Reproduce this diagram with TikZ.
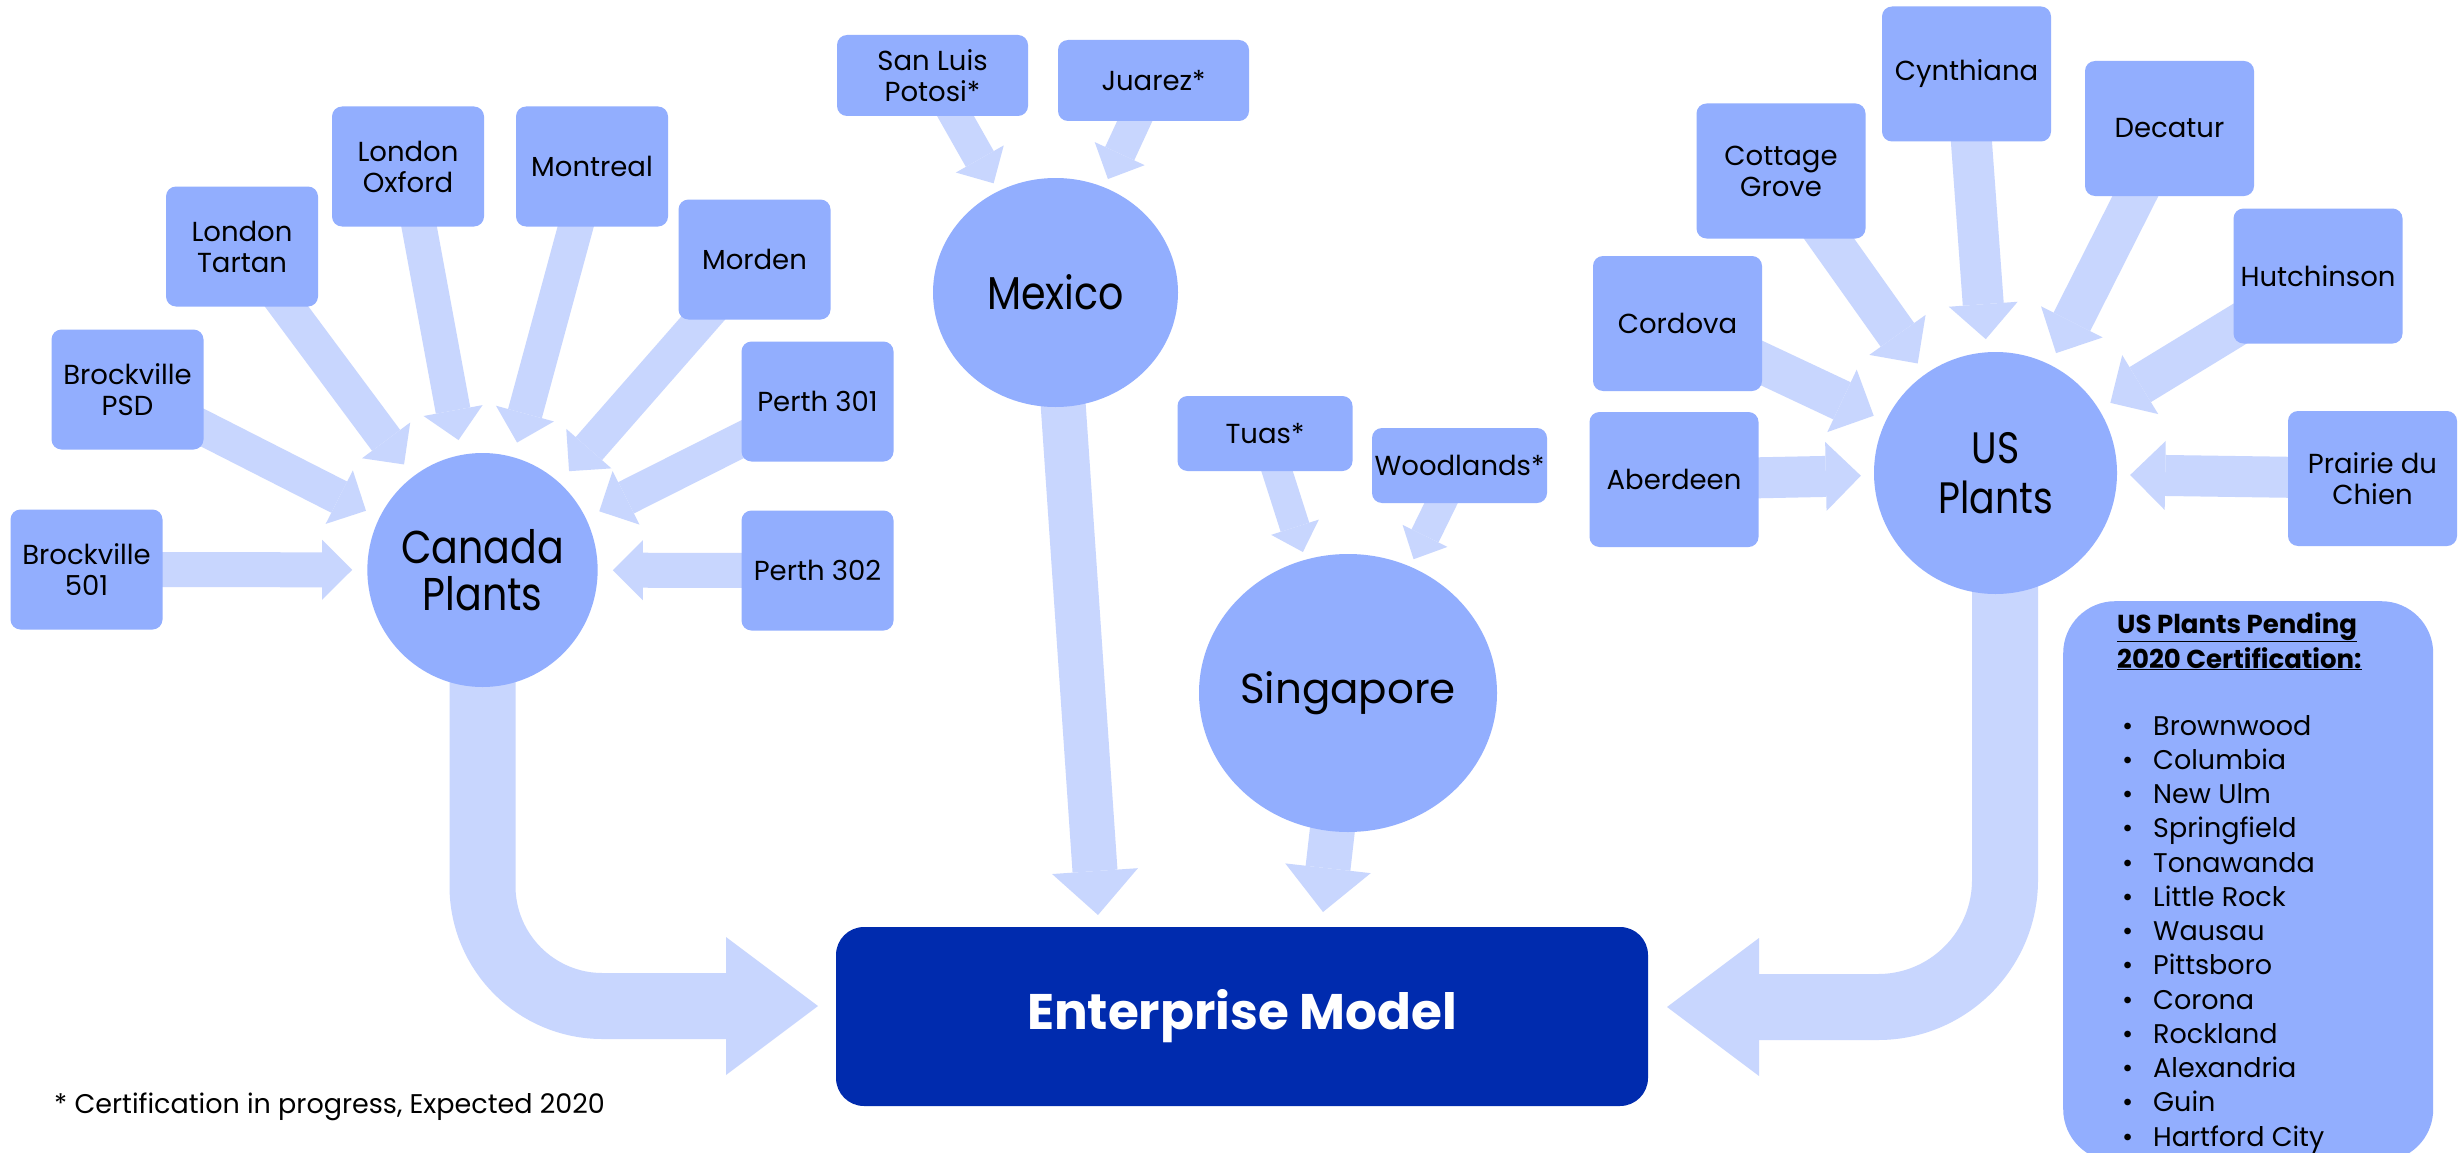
\documentclass[tikz,border=0pt]{standalone}
\usepackage{fontspec}
\setmainfont{Poppins}
\newfontfamily\narrowfont[FakeStretch=0.86]{Poppins}
\usetikzlibrary{shapes.geometric,arrows.meta}
\definecolor{siteblue}{RGB}{146,174,254}
\definecolor{flowblue}{RGB}{200,214,254}
\definecolor{navy}{RGB}{0,43,174}
\pgfdeclarelayer{paper}
\pgfdeclarelayer{background}
\pgfsetlayers{paper,background,main}

\begin{document}
\begin{tikzpicture}[x=1pt,y=-1pt,
  site/.style={rectangle,rounded corners=10pt,fill=siteblue,align=center,inner sep=0pt,
    font=\fontsize{27.5}{31}\selectfont},
  cansite/.style={site,minimum width=152pt,minimum height=120pt},
  ussite/.style={site,minimum width=169pt,minimum height=135pt},
  mexsite/.style={site,minimum width=191pt,minimum height=81pt},
  sgsite/.style={site,minimum width=175pt,minimum height=75pt},
  hub/.style={ellipse,fill=siteblue,inner sep=0pt,align=center},
  canflow/.style={draw=flowblue,line width=35pt,shorten >=15pt,
    -{Triangle[length=30pt,width=60pt,line width=0pt]}},
  usflow/.style={draw=flowblue,line width=41pt,shorten >=13pt,
    -{Triangle[length=35pt,width=69pt,line width=0pt]}},
  mexflow/.style={draw=flowblue,line width=32pt,shorten >=9pt,
    -{Triangle[length=28pt,width=55pt,line width=0pt]}},
  sgflow/.style={draw=flowblue,line width=30pt,shorten >=8pt,
    -{Triangle[length=26pt,width=50pt,line width=0pt]}},
  downflow/.style={draw=flowblue,line width=45pt,
    -{Triangle[length=44pt,width=86pt,line width=0pt]}},
  bigflow/.style={draw=flowblue,line width=66pt,
    -{Triangle[length=92pt,width=138pt,line width=0pt]}},
  listitem/.style={anchor=base west,inner sep=0pt,font=\fontsize{27}{30}\selectfont}
]
\useasboundingbox (0,0) rectangle (2463,1153);
\begin{pgfonlayer}{paper}
  \fill[white] (0,0) rectangle (2463,1153);
\end{pgfonlayer}

% ---------- hubs ----------
\node[hub,minimum width=229pt,minimum height=234pt,
  font=\narrowfont\fontsize{46}{47}\selectfont] (canada) at (482.5,570) {Canada\\Plants};
\node[hub,minimum width=245pt,minimum height=229pt,
  font=\narrowfont\fontsize{46}{50}\selectfont] (mexico) at (1055.5,292.5) {Mexico};
\node[hub,minimum width=298pt,minimum height=278pt,
  font=\fontsize{42}{50}\selectfont] (singapore) at (1348,693) {\makebox[0pt]{Singapore}};
\node[hub,minimum width=243pt,minimum height=242pt,
  font=\narrowfont\fontsize{44}{50}\selectfont] (us) at (1995.5,473) {US\\Plants};

% ---------- Canadian sites ----------
\node[cansite] (brock501) at (86.5,569.5) {Brockville\\501};
\node[cansite] (brockpsd) at (127.5,389.5) {Brockville\\PSD};
\node[cansite] (ltartan)  at (242,246.5)   {London\\Tartan};
\node[cansite] (loxford)  at (408,166.5)   {London\\Oxford};
\node[cansite] (montreal) at (592,166.5)   {Montreal};
\node[cansite] (morden)   at (754.5,259.5) {Morden};
\node[cansite] (perthA)   at (817.5,401.5) {Perth 301};
\node[cansite] (perthB)   at (817.5,570.5) {Perth 302};

% ---------- Mexican sites ----------
\node[mexsite] (slp)    at (932.5,75.5)  {San Luis\\Potosi*};
\node[mexsite] (juarez) at (1153.5,80.5) {Juarez*};

% ---------- Singapore sites ----------
\node[sgsite] (tuas)      at (1265,433.5)   {Tuas*};
\node[sgsite] (woodlands) at (1459.5,465.5) {Woodlands*};

% ---------- US sites ----------
\node[ussite] (cynthiana)  at (1966.5,74)    {Cynthiana};
\node[ussite] (cottage)    at (1781,171)     {Cottage\\Grove};
\node[ussite] (decatur)    at (2169.5,128.5) {Decatur};
\node[ussite] (cordova)    at (1677.5,323.5) {Cordova};
\node[ussite] (hutchinson) at (2318,276)     {Hutchinson};
\node[ussite] (aberdeen)   at (1674,479.5)   {Aberdeen};
\node[ussite] (prairie)    at (2372.5,478.5) {Prairie du\\Chien};

% ---------- enterprise model ----------
\node[rectangle,rounded corners=28pt,fill=navy,minimum width=812pt,minimum height=179pt,
  text=white,font=\bfseries\fontsize{50}{60}\selectfont] (ent) at (1242,1016.5) {Enterprise Model};

% ---------- pending list ----------
\node[rectangle,rounded corners=52pt,fill=siteblue,minimum width=370pt,minimum height=560pt,
  anchor=north west,inner sep=0pt] (pending) at (2063,601) {};
\node[anchor=base west,inner sep=0pt,font=\bfseries\fontsize{26}{30}\selectfont]
  (pendA) at (2117,633) {\underline{US Plants Pending}};
\node[anchor=base west,inner sep=0pt,font=\bfseries\fontsize{26}{30}\selectfont]
  (pendB) at (2117,668) {\underline{2020 Certification:}};
\foreach \plant [count=\i from 0] in {Brownwood,Columbia,New Ulm,Springfield,Tonawanda,
    Little Rock,Wausau,Pittsboro,Corona,Rockland,Alexandria,Guin,Hartford City}
  \node[listitem] (plant\i) at (2122,{735+34.25*\i}) {\makebox[31pt][l]{\textbullet}\plant};

% ---------- footnote ----------
\node[anchor=base west,inner sep=0pt,font=\fontsize{27}{30}\selectfont] (note) at (54,1113)
  {* Certification in progress, Expected 2020};

% ---------- arrow ends ----------
\coordinate (canTip) at (818,1006);
\coordinate (usOut)  at (2005,560);
\coordinate (usTip)  at (1667,1007);
\coordinate (mexTip) at (1098,915);
\coordinate (sgTip)  at (1323,912);

% ---------- flows ----------
\begin{pgfonlayer}{background}
  \foreach \s in {brock501,brockpsd,ltartan,loxford,montreal,morden,perthA,perthB}
    \draw[canflow] (\s.center) -- (canada);
  \foreach \s in {cynthiana,cottage,decatur,cordova,hutchinson,aberdeen,prairie}
    \draw[usflow] (\s.center) -- (us);
  \foreach \s in {slp,juarez}
    \draw[mexflow] (\s.center) -- (mexico);
  \foreach \s in {tuas,woodlands}
    \draw[sgflow] (\s.center) -- (singapore);
  \draw[downflow] (mexico.center) -- (mexTip);
  \draw[downflow] (singapore.center) -- (sgTip);
  \draw[bigflow,rounded corners=120pt] (canada.center) |- (canTip);
  \draw[bigflow,rounded corners=127pt] (usOut) |- (usTip);
\end{pgfonlayer}
\end{tikzpicture}
\end{document}
